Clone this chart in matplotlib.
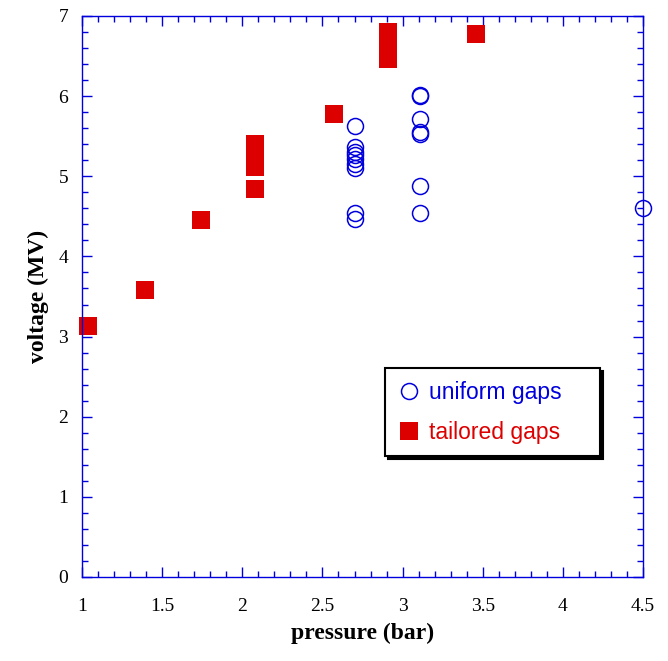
import matplotlib.pyplot as plt
from matplotlib.ticker import MultipleLocator

# uniform gaps (open circles)
uniform_p = [2.70, 2.70, 2.70, 2.70, 2.70, 2.70, 2.70, 2.70, 2.70,
             3.11, 3.11, 3.11, 3.11, 3.11, 3.11, 3.11, 4.50]
uniform_v = [5.63, 5.37, 5.30, 5.27, 5.22, 5.15, 5.10, 4.54, 4.47,
             6.00, 6.01, 5.71, 5.55, 5.53, 4.88, 4.54, 4.60]

# tailored gaps (filled squares)
tailored_p = [1.04, 1.39, 1.74, 2.08, 2.08, 2.08, 2.08, 2.57,
              2.91, 2.91, 2.91, 2.91, 2.91, 3.46]
tailored_v = [3.13, 3.58, 4.45, 4.84, 5.12, 5.18, 5.40, 5.78,
              6.80, 6.72, 6.63, 6.55, 6.46, 6.78]

blue = '#0000dd'
red = '#dd0000'

plt.rcParams['font.family'] = ['Liberation Serif', 'DejaVu Serif']

fig = plt.figure(figsize=(6.68, 6.61), dpi=100)
ax = fig.add_axes([0.1228, 0.1271, 0.8398, 0.8487])

ax.plot(tailored_p, tailored_v, 's', color=red, markersize=12.5,
        markeredgewidth=0, label='tailored gaps', zorder=2, clip_on=False)
ax.plot(uniform_p, uniform_v, 'o', markerfacecolor='none', markeredgecolor=blue,
        markersize=11.5, markeredgewidth=1.1, label='uniform gaps', zorder=3,
        clip_on=False)

ax.set_xlim(1, 4.5)
ax.set_ylim(0, 7)
ax.xaxis.set_major_locator(MultipleLocator(0.5))
ax.xaxis.set_minor_locator(MultipleLocator(0.1))
ax.yaxis.set_major_locator(MultipleLocator(1))
ax.yaxis.set_minor_locator(MultipleLocator(0.2))
ax.set_xticks([1, 1.5, 2, 2.5, 3, 3.5, 4, 4.5])
ax.set_xticklabels(['1', '1.5', '2', '2.5', '3', '3.5', '4', '4.5'])

for s in ax.spines.values():
    s.set_color(blue)
    s.set_linewidth(1.0)
ax.tick_params(which='both', direction='in', top=True, right=True,
               color=blue, labelcolor='black', labelsize=14)
ax.tick_params(axis='x', pad=15)
ax.tick_params(axis='y', pad=10)
ax.tick_params(which='major', length=7, width=1)
ax.tick_params(which='minor', length=4, width=1)

ax.set_xlabel('pressure (bar)', fontsize=17, fontweight='bold', labelpad=6)
ax.set_ylabel('voltage (MV)', fontsize=17, fontweight='bold', labelpad=6.5)

handles, labels = ax.get_legend_handles_labels()
leg = ax.legend(handles[::-1], labels[::-1], loc='upper left',
                bbox_to_anchor=(0.54, 0.2175, 0.383, 0.155), mode='expand',
                frameon=True, fancybox=False,
                shadow={'color': 'black', 'alpha': 1}, edgecolor='black',
                prop={'family': 'Liberation Sans', 'size': 16.5},
                handlelength=1.0, handletextpad=0.35, labelspacing=0.75,
                borderpad=0.55, borderaxespad=0, markerscale=1.0)
leg.get_frame().set_linewidth(1.5)
leg.get_texts()[0].set_color(blue)
leg.get_texts()[1].set_color(red)

fig.savefig('out.png', dpi=100)
